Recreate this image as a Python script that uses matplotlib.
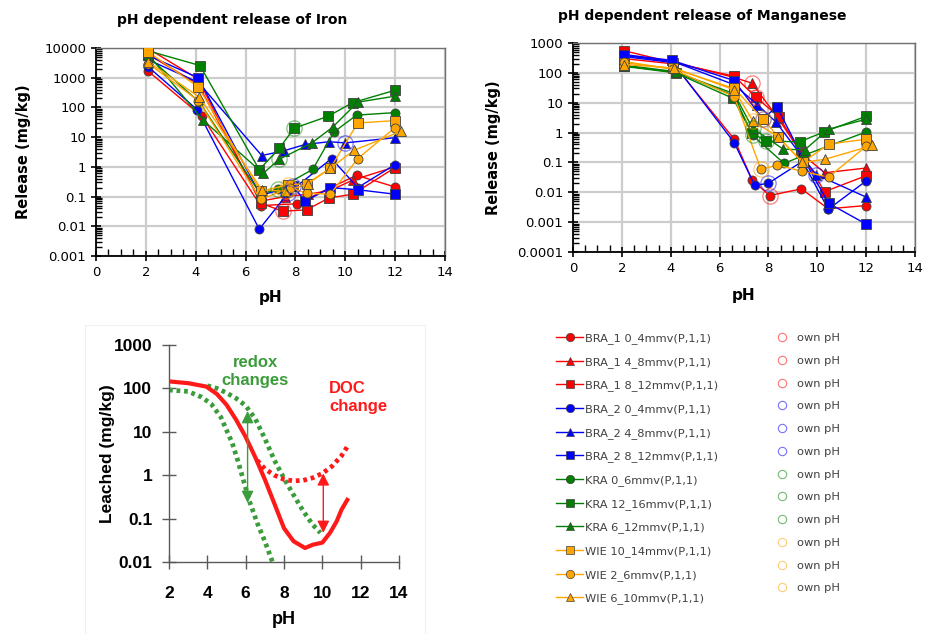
import numpy as np
import matplotlib
matplotlib.use("Agg")
import matplotlib.pyplot as plt
from matplotlib.lines import Line2D
from matplotlib.patches import Rectangle
from matplotlib.ticker import FixedLocator, FuncFormatter, LogLocator, MultipleLocator, NullFormatter

# --- series names (shared by both release charts) ---
SERIES = [
    "BRA_1 0_4mmv(P,1,1)", "BRA_1 4_8mmv(P,1,1)", "BRA_1 8_12mmv(P,1,1)",
    "BRA_2 0_4mmv(P,1,1)", "BRA_2 4_8mmv(P,1,1)", "BRA_2 8_12mmv(P,1,1)",
    "KRA 0_6mmv(P,1,1)", "KRA 12_16mmv(P,1,1)", "KRA 6_12mmv(P,1,1)",
    "WIE 10_14mmv(P,1,1)", "WIE 2_6mmv(P,1,1)", "WIE 6_10mmv(P,1,1)",
]
OWN_LABEL = "own pH"

# --- Iron release (mg/kg) ---
FE_PH = [
    [2.08, 4.25, 6.6, 8.05, 10.45, 12.0],
    [2.1, 4.1, 6.6, 7.6, 8.5, 9.4, 10.3, 12.0],
    [2.1, 4.1, 6.6, 7.5, 8.45, 9.35, 10.3, 12.0],
    [2.1, 4.05, 6.55, 7.7, 9.45, 10.5, 12.0],
    [2.1, 4.1, 6.65, 7.55, 8.4, 9.35, 10.0, 12.0],
    [2.1, 4.1, 6.6, 7.9, 8.4, 9.4, 10.5, 12.0],
    [2.1, 4.15, 6.6, 7.3, 8.7, 9.55, 10.45, 12.0],
    [2.1, 4.17, 6.55, 7.35, 7.95, 9.3, 10.3, 12.0],
    [2.1, 4.3, 6.7, 7.35, 8.65, 9.5, 10.5, 12.0],
    [2.1, 4.1, 6.6, 7.7, 8.45, 9.4, 10.5, 12.0],
    [2.1, 4.1, 6.6, 7.8, 8.45, 9.4, 10.5, 12.0],
    [2.1, 4.15, 6.65, 7.6, 8.5, 9.4, 10.35, 12.25],
]
FE_VAL = [
    [1700, 50, 0.05, 0.057, 0.52, 0.21],
    [6000, 600, 0.07, 0.1, 0.12, 0.16, 0.36, 1.0],
    [9500, 900, 0.06, 0.032, 0.036, 0.09, 0.12, 0.95],
    [2300, 85, 0.008, 0.13, 1.9, 0.2, 1.2],
    [4000, 700, 2.4, 3.5, 5.7, 7.0, 6.4, 9.6],
    [5600, 1000, 0.11, 0.22, 0.07, 0.2, 0.17, 0.12],
    [5000, 150, 0.12, 0.18, 0.83, 15, 55, 67],
    [8000, 2570, 0.8, 4.2, 20, 50, 145, 380],
    [6000, 37, 0.6, 1.8, 6.3, 22, 150, 240],
    [7300, 490, 0.15, 0.25, 0.27, 0.9, 30, 36],
    [3000, 170, 0.08, 0.2, 0.13, 0.12, 1.9, 21],
    [3400, 220, 0.17, 0.15, 0.27, 0.9, 3.6, 16],
]
FE_OWN_PH = [np.nan, np.nan, 7.5, 7.7, 10.0, 7.9, 7.3, 7.95, 7.35, 7.7, 7.8, 7.6]
FE_OWN_VAL = [np.nan, np.nan, 0.032, 0.13, 6.4, 0.22, 0.18, 20, 1.8, 0.25, 0.2, 0.15]

# --- Manganese release (mg/kg) ---
MN_PH = [
    [2.1, 4.1, 6.6, 7.33, 8.05, 9.35, 10.45, 12.0],
    [2.1, 4.1, 6.6, 7.33, 8.4, 9.35, 10.3, 12.0],
    [2.1, 4.1, 6.6, 7.48, 8.44, 9.35, 10.3, 12.0],
    [2.1, 4.1, 6.6, 7.44, 8.0, 9.4, 10.45, 12.0],
    [2.1, 4.1, 6.6, 7.54, 8.3, 9.4, 9.96, 12.0],
    [2.1, 4.05, 6.6, 7.76, 8.35, 9.4, 10.46, 12.0],
    [2.1, 4.2, 6.6, 7.35, 8.64, 9.5, 12.0],
    [2.1, 4.2, 6.55, 7.33, 7.92, 9.28, 10.27, 12.0],
    [2.1, 4.2, 6.6, 7.35, 8.6, 9.48, 10.46, 12.0],
    [2.1, 4.1, 6.6, 7.76, 8.4, 9.4, 10.46, 12.0],
    [2.1, 4.1, 6.6, 7.69, 8.37, 9.37, 10.46, 12.0],
    [2.1, 4.15, 6.6, 7.37, 8.4, 9.39, 10.3, 12.25],
]
MN_VAL = [
    [300, 200, 0.6, 0.026, 0.0078, 0.013, 0.0028, 0.0036],
    [400, 230, 70, 45, 3.0, 0.2, 0.045, 0.065],
    [550, 220, 77, 15.5, 3.3, 0.2, 0.0105, 0.036],
    [350, 220, 0.46, 0.017, 0.02, 0.11, 0.0027, 0.024],
    [380, 240, 40, 8.7, 2.3, 0.15, 0.039, 0.0069],
    [410, 262, 55, 2.9, 7.2, 0.15, 0.0043, 0.00086],
    [180, 110, 17, 0.8, 0.093, 0.18, 1.05],
    [165, 100, 14, 0.95, 0.52, 0.49, 1.05, 3.5],
    [170, 105, 20, 1.4, 0.28, 0.26, 1.3, 2.8],
    [220, 140, 30, 2.9, 0.72, 0.1, 0.41, 0.6],
    [240, 130, 16, 0.059, 0.081, 0.051, 0.032, 0.35],
    [190, 145, 27, 2.4, 0.72, 0.1, 0.126, 0.37],
]
MN_OWN_PH = [8.05, 7.33, 7.48, 8.0, 9.96, 7.76, 7.35, 7.92, 7.35, 7.76, 7.69, 7.37]
MN_OWN_VAL = [0.0078, 45, 15.5, 0.02, 0.039, 2.9, 0.8, 0.52, 1.4, 2.9, 0.059, 2.4]

# --- schematic leaching curves (mg/kg) ---
BASE_PH = [2.0, 3.0, 3.95, 4.5, 5.0, 5.5, 6.0, 6.5, 7.0, 7.5, 8.0, 8.5, 9.1, 9.5, 10.0, 10.4, 10.75, 11.0, 11.3]
BASE_VAL = [145, 132, 110, 74, 42, 19, 7.6, 2.6, 0.8, 0.22, 0.06, 0.03, 0.021, 0.025, 0.028, 0.047, 0.087, 0.16, 0.27]
DOC_PH = [6.6, 7.0, 7.5, 8.0, 8.5, 9.0, 9.5, 10.0, 10.5, 11.0, 11.3]
DOC_VAL = [2.2, 1.4, 1.0, 0.8, 0.74, 0.76, 0.87, 1.1, 1.6, 2.8, 4.5]
RED_LOW_PH = [2.0, 3.0, 3.7, 4.2, 4.7, 5.0, 5.3, 5.6, 5.9, 6.2, 6.6, 7.0, 7.4]
RED_LOW_VAL = [92, 85, 63, 44, 22, 11, 5.5, 2.1, 0.72, 0.25, 0.08, 0.03, 0.01]
RED_HIGH_PH = [4.0, 4.5, 5.0, 5.5, 6.0, 6.5, 7.0, 7.5, 8.0, 8.5, 9.0, 9.5, 9.9]
RED_HIGH_VAL = [115, 100, 79, 59, 40, 20, 7.0, 2.2, 0.85, 0.35, 0.15, 0.072, 0.047]
REDOX_ARROW = (6.1, 0.23, 30)
DOC_ARROW = (10.05, 0.047, 1.1)

# --- styles ---
COLORS = ["#ff0000"] * 3 + ["#0000ff"] * 3 + ["#008000"] * 3 + ["#ffa500"] * 3
MARKERS = ["o", "^", "s", "o", "^", "s", "o", "s", "^", "s", "o", "^"]
GREEN = "#3c9c3c"
RED = "#ff1a1a"
GRID = "#cccccc"

plt.rcParams["font.family"] = "DejaVu Sans"

fig = plt.figure(figsize=(9.27, 6.34), dpi=100)


def fmt_num(v, pos):
    return f"{v:g}"


def release_panel(ax, ph_sets, val_sets, own_ph, own_val, ymin, ymax):
    ax.set_yscale("log")
    ax.set_ylim(ymin, ymax)
    ax.set_xlim(0, 14)
    ax.xaxis.set_major_locator(MultipleLocator(2))
    ax.xaxis.set_minor_locator(MultipleLocator(0.5))
    ax.yaxis.set_major_locator(LogLocator(base=10, numticks=20))
    ax.yaxis.set_minor_locator(LogLocator(base=10, subs=np.arange(2, 10), numticks=20))
    ax.yaxis.set_major_formatter(FuncFormatter(fmt_num))
    ax.yaxis.set_minor_formatter(NullFormatter())
    ax.grid(True, which="major", axis="both", color=GRID, linewidth=1.6, zorder=1)
    ax.set_axisbelow(True)

    for i in range(len(SERIES)):
        ax.plot(ph_sets[i], val_sets[i], color=COLORS[i], lw=1.0, marker=MARKERS[i],
                ms=6.5, mfc=COLORS[i], mec="#404040", mew=0.6, zorder=3)
    for i in range(len(SERIES)):
        if np.isnan(own_ph[i]):
            continue
        ax.plot([own_ph[i]], [own_val[i]], ls="none", marker="o", ms=11, mfc="none",
                mec=COLORS[i], mew=0.9, alpha=0.5, zorder=4)

    ax.tick_params(which="major", direction="inout", length=7, width=1.2, labelsize=9.5, color="black")
    ax.tick_params(which="minor", direction="in", length=4, width=1.0, color="black")
    ax.tick_params(axis="x", which="minor", length=5)
    for s in ("left", "bottom"):
        ax.spines[s].set_color("black")
        ax.spines[s].set_linewidth(1.3)
    for s in ("top", "right"):
        ax.spines[s].set_color("#707070")
        ax.spines[s].set_linewidth(1.0)
    ax.set_xlabel("pH", fontsize=11, fontweight="bold")
    ax.set_ylabel("Release (mg/kg)", fontsize=10.5, fontweight="bold")


ax_fe = fig.add_axes([96 / 927, 1 - 256 / 634, 349 / 927, 208 / 634])
release_panel(ax_fe, FE_PH, FE_VAL, FE_OWN_PH, FE_OWN_VAL, 0.001, 10000)
ax_fe.xaxis.set_label_coords(0.5, -0.165)
ax_fe.yaxis.set_label_coords(-0.186, 0.5)
fig.text(232 / 927, 1 - 20 / 634, "pH dependent release of Iron", ha="center", va="center",
         fontsize=10, fontweight="bold")

ax_mn = fig.add_axes([573 / 927, 1 - 252 / 634, 342 / 927, 209 / 634])
release_panel(ax_mn, MN_PH, MN_VAL, MN_OWN_PH, MN_OWN_VAL, 0.0001, 1000)
ax_mn.xaxis.set_label_coords(0.5, -0.17)
ax_mn.yaxis.set_label_coords(-0.211, 0.5)
fig.text(702 / 927, 1 - 16 / 634, "pH dependent release of Manganese", ha="center", va="center",
         fontsize=10, fontweight="bold")

# --- legend (series + own pH markers) ---
series_handles = [Line2D([], [], color=COLORS[i], lw=1.0, marker=MARKERS[i], ms=6,
                         mfc=COLORS[i], mec="#404040", mew=0.5) for i in range(len(SERIES))]
own_handles = [Line2D([], [], ls="none", marker="o", ms=6, mfc="none", mec=COLORS[i],
                      mew=0.8, alpha=0.55) for i in range(len(SERIES))]
fig.legend(handles=series_handles + own_handles, labels=SERIES + [OWN_LABEL] * len(SERIES),
           ncol=2, loc="upper left", bbox_to_anchor=(556 / 927, 1 - 333 / 634),
           frameon=False, fontsize=8.2, labelspacing=1.12, handlelength=2.4,
           handletextpad=0.15, columnspacing=4.4, borderpad=0, borderaxespad=0,
           labelcolor="#404040")

# --- schematic leaching chart ---
fig.patches.append(Rectangle((85 / 927, 0), 340 / 927, 1 - 325 / 634, transform=fig.transFigure,
                             fill=False, ec="#f0f0f0", lw=0.8))
ax_s = fig.add_axes([169 / 927, 1 - 562 / 634, 230 / 927, 217 / 634])
ax_s.plot(RED_LOW_PH, RED_LOW_VAL, color=GREEN, lw=3.4, ls=(0, (0.8, 0.8)), zorder=2)
ax_s.plot(RED_HIGH_PH, RED_HIGH_VAL, color=GREEN, lw=3.4, ls=(0, (0.8, 0.8)), zorder=2)
ax_s.plot(DOC_PH, DOC_VAL, color=RED, lw=3.4, ls=(0, (0.8, 0.8)), zorder=3)
ax_s.plot(BASE_PH, BASE_VAL, color=RED, lw=3.0, zorder=4)
ax_s.annotate("", xy=(REDOX_ARROW[0], REDOX_ARROW[2]), xytext=(REDOX_ARROW[0], REDOX_ARROW[1]),
              arrowprops=dict(arrowstyle="<|-|>", color=GREEN, lw=1.0, mutation_scale=18,
                              shrinkA=0, shrinkB=0), zorder=5)
ax_s.annotate("", xy=(DOC_ARROW[0], DOC_ARROW[2]), xytext=(DOC_ARROW[0], DOC_ARROW[1]),
              arrowprops=dict(arrowstyle="<|-|>", color=RED, lw=1.0, mutation_scale=18,
                              shrinkA=0, shrinkB=0), zorder=5)
ax_s.text(6.49, 240, "redox\nchanges", ha="center", va="center", color=GREEN,
          fontsize=12, fontweight="bold", family="Liberation Sans", linespacing=1.25)
ax_s.text(10.35, 63, "DOC\nchange", ha="left", va="center", color=RED,
          fontsize=12, fontweight="bold", family="Liberation Sans", linespacing=1.25)
ax_s.set_yscale("log")
ax_s.set_xlim(2, 14)
ax_s.set_ylim(0.01, 1000)
ax_s.xaxis.set_major_locator(MultipleLocator(2))
ax_s.yaxis.set_major_locator(FixedLocator([0.01, 0.1, 1, 10, 100, 1000]))
ax_s.yaxis.set_minor_locator(FixedLocator([]))
ax_s.yaxis.set_major_formatter(FuncFormatter(fmt_num))
ax_s.spines["top"].set_visible(False)
ax_s.spines["right"].set_visible(False)
for s in ("left", "bottom"):
    ax_s.spines[s].set_color("#595959")
    ax_s.spines[s].set_linewidth(1.0)
ax_s.tick_params(direction="inout", length=10, width=1.0, color="#595959")
ax_s.tick_params(axis="x", pad=12)
ax_s.tick_params(axis="y", pad=7)
for lab in ax_s.get_xticklabels() + ax_s.get_yticklabels():
    lab.set_family("Liberation Sans")
    lab.set_fontweight("bold")
    lab.set_fontsize(12.5)
ax_s.set_xlabel("pH", fontsize=13, fontweight="bold", family="Liberation Sans")
ax_s.set_ylabel("Leached (mg/kg)", fontsize=12.5, fontweight="bold", family="Liberation Sans")
ax_s.xaxis.set_label_coords(0.5, -0.225)
ax_s.yaxis.set_label_coords(-0.235, 0.5)

fig.savefig("out.png", dpi=100)
